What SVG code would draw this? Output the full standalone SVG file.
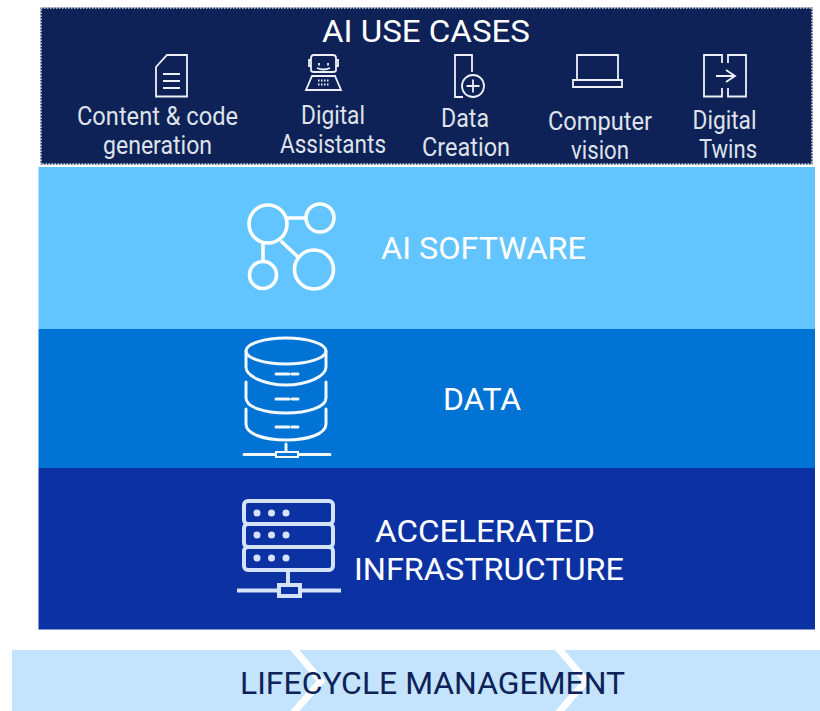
<svg xmlns="http://www.w3.org/2000/svg" width="820" height="711" viewBox="0 0 820 711">
<style>
text{font-family:Roboto,"Liberation Sans",Arial,sans-serif;font-weight:400;text-anchor:middle;fill:#fff}
.uc{font-size:25px;fill:#dfe2ea}
.big{font-size:31px}
.i{fill:none;stroke:#eef0f5;stroke-width:1.8}
.w{fill:none;stroke:#fff;stroke-width:3.6;stroke-linecap:round}
.d{fill:none;stroke:#f2f7fc;stroke-width:3;stroke-linecap:round}
.s{fill:none;stroke:#d4e2fa;stroke-width:4}
.c{fill:none;stroke:#fff;stroke-width:7}
</style>
<rect width="820" height="711" fill="#fff"/>
<g id="use-cases">
<rect x="41" y="8" width="771" height="156" fill="#0e2257" stroke="#0e2257" stroke-width="1"/>
<rect x="41" y="8" width="771" height="156" fill="none" stroke="#dfe3ec" stroke-width="1.500" stroke-dasharray="1.500 1.500"/>
<text x="426" y="41.500" class="big" textLength="208" lengthAdjust="spacingAndGlyphs">AI USE CASES</text>
</g>
<g id="content-code">
<path class="i" d="M167 55H187V96.500H156V67ZM163 74H180M163 81H180M163 88H180"/>
<text x="157.500" y="124.500" class="uc" textLength="161" lengthAdjust="spacingAndGlyphs">Content &amp; code</text><text x="157.500" y="153.500" class="uc" textLength="109" lengthAdjust="spacingAndGlyphs">generation</text>
</g>
<g id="digital-assistants">
<path class="i" d="M314 55H333Q336 55 336 58V70Q336 72 333 72H314Q311 72 311 70V58Q311 55 314 55ZM311 60H309V66H311M336 60H338V66H336M317 68Q323.500 71 330 68M312 76H335L341 90H306Z"/>
<path class="i" stroke-width="2.500" d="M319 63V65.500M328 63V65.500"/>
<path class="i" stroke-width="2" stroke-dasharray="1.500 1.500" d="M318 80.500H330M318 84.500H330"/>
<text x="333" y="123.500" class="uc" textLength="64" lengthAdjust="spacingAndGlyphs">Digital</text><text x="333" y="152.500" class="uc" textLength="106" lengthAdjust="spacingAndGlyphs">Assistants</text>
</g>
<g id="data-creation">
<path class="i" d="M472 72V55H455V97H463"/><circle class="i" cx="473" cy="86" r="11"/><path class="i" d="M473 79.500V92.500M466.500 86H479.500"/>
<text x="465" y="126.500" class="uc" textLength="48" lengthAdjust="spacingAndGlyphs">Data</text><text x="466" y="155.500" class="uc" textLength="88" lengthAdjust="spacingAndGlyphs">Creation</text>
</g>
<g id="computer-vision">
<path class="i" d="M577 80V55H618V80M573 80H622V87H573Z"/>
<text x="600" y="129.500" class="uc" textLength="104" lengthAdjust="spacingAndGlyphs">Computer</text><text x="600" y="158.500" class="uc" textLength="58" lengthAdjust="spacingAndGlyphs">vision</text>
</g>
<g id="digital-twins">
<path class="i" d="M722 63V55H704V96.500H722V88M728 63V55H746V96.500H728V88M716 76H735M726 70L735 76L726 82"/>
<text x="724.500" y="128.500" class="uc" textLength="64" lengthAdjust="spacingAndGlyphs">Digital</text><text x="728" y="157.500" class="uc" textLength="58" lengthAdjust="spacingAndGlyphs">Twins</text>
</g>
<g id="ai-software">
<rect x="38.500" y="167" width="776.500" height="162" fill="#63c5ff"/>
<circle class="w" cx="268" cy="224" r="19"/><circle class="w" cx="320" cy="218" r="14"/><circle class="w" cx="263" cy="275" r="13.500"/><circle class="w" cx="314" cy="269.500" r="19.500"/>
<path class="w" d="M288 218H305M263 245V261M282 242L298 257"/>
<text x="483.500" y="258.500" class="big" textLength="205" lengthAdjust="spacingAndGlyphs">AI SOFTWARE</text>
</g>
<g id="data">
<rect x="38.500" y="329" width="776.500" height="139" fill="#0073d4"/>
<ellipse class="d" cx="286" cy="351" rx="40" ry="13"/>
<path class="d" d="M246 351V367C246 376 264 385 286 385S326 376 326 367V351M246 382V398C246 407 264 413 286 413S326 407 326 398V382M246 409V424C246 434 264 440 286 440S326 434 326 424V409M276 374H289M292 374H298M276 399H289M292 399H298M276 427H289M292 427H298M286 444V452M244 454.500H330"/>
<rect x="276" y="452" width="22" height="5" fill="#0073d4" stroke="#f2f7fc" stroke-width="2"/>
<text x="482" y="409.500" class="big" textLength="78" lengthAdjust="spacingAndGlyphs">DATA</text>
</g>
<g id="infrastructure">
<rect x="38.500" y="468" width="776.500" height="161.500" fill="#0c31a3"/>
<rect class="s" x="244" y="501" width="89" height="23" rx="4"/><rect class="s" x="244" y="524" width="89" height="23" rx="4"/><rect class="s" x="244" y="547" width="89" height="23" rx="4"/>
<g fill="#d4e2fa"><circle cx="257" cy="513" r="3.500"/><circle cx="271.500" cy="513" r="3.500"/><circle cx="286" cy="513" r="3.500"/><circle cx="257" cy="535" r="3.500"/><circle cx="271.500" cy="535" r="3.500"/><circle cx="286" cy="535" r="3.500"/><circle cx="257" cy="558" r="3.500"/><circle cx="271.500" cy="558" r="3.500"/><circle cx="286" cy="558" r="3.500"/></g>
<path class="s" d="M288 571V585M237 590.500H278M300 590.500H341"/>
<rect class="s" x="279" y="585" width="21" height="11"/>
<text x="485" y="541.500" class="big" textLength="220" lengthAdjust="spacingAndGlyphs">ACCELERATED</text><text x="489" y="579.500" class="big" textLength="270" lengthAdjust="spacingAndGlyphs">INFRASTRUCTURE</text>
</g>
<g id="lifecycle">
<rect x="12" y="650" width="808" height="61" fill="#c4e3fd"/>
<path class="c" d="M293 648L321 681L293 713M558 648L586 681L558 713"/>
<text x="432.500" y="693.500" class="big" style="fill:#0e2257" textLength="385" lengthAdjust="spacingAndGlyphs">LIFECYCLE MANAGEMENT</text>
</g>
</svg>
